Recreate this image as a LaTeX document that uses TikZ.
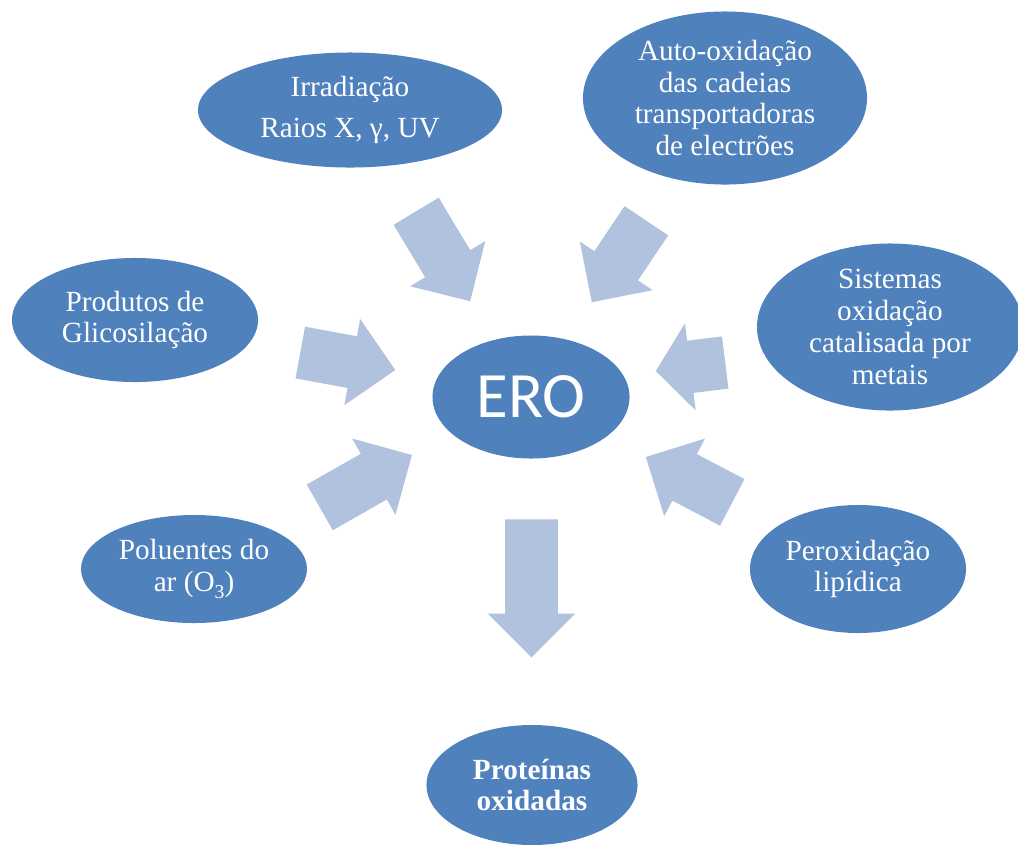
\documentclass[tikz,border=0pt]{standalone}
\usepackage{fontspec}
\setmainfont{Liberation Serif}
\newfontfamily\erofont{Carlito}
\usetikzlibrary{shapes.geometric, shapes.arrows}
\definecolor{ellblue}{HTML}{4F81BD}
\definecolor{arrblue}{HTML}{B1C2DE}
\tikzstyle{source} = [ellipse, 
fill=ellblue, 
text=white, 
inner sep=0pt, 
align=center, 
font=\fontsize{20.8}{22.6}\selectfont]
\tikzstyle{bigarrow} = [single arrow, 
fill=arrblue, 
inner sep=0pt, 
inner ysep=0.65cm, 
single arrow head extend=0.4375cm, 
anchor=tail]

\begin{document}
\begin{tikzpicture}[x=0.025cm, y=-0.025cm]
    \useasboundingbox (0,0) rectangle (1018,844);
    \node (irrad) [source, minimum width=7.6cm, minimum height=2.875cm] at (350,110) {Irradiação\\[7pt]Raios X, γ, UV};
    \node (autox) [source, minimum width=7.1cm, minimum height=4.325cm] at (725,98) {Auto-oxidação\\das cadeias\\transportadoras\\de electrões};
    \node (glico) [source, minimum width=6.15cm, minimum height=3.1cm] at (135,320) {Produtos de\\Glicosilação};
    \node (sistemas) [source, minimum width=6.65cm, minimum height=4.175cm] at (890,327) {Sistemas\\oxidação\\catalisada por\\metais};
    \node (ero) [source, minimum width=4.925cm, minimum height=3.075cm, font=\erofont\fontsize{46}{50}\selectfont] at (531,397) {ERO};
    \node (polu) [source, minimum width=5.65cm, minimum height=2.7cm] at (194,569) {Poluentes do\\ar (O\raisebox{-0.55ex}{\fontsize{14}{14}\selectfont 3})};
    \node (perox) [source, minimum width=5.4cm, minimum height=3.2cm] at (858,569) {Peroxidação\\lipídica};
    \node (prot) [source, minimum width=5.275cm, minimum height=3cm, font=\bfseries\fontsize{20.8}{22.6}\selectfont] at (532,785) {Proteínas\\oxidadas};

    \node (a-irrad) [bigarrow, minimum height=2.625cm, rotate=-59] at (416,211) {};
    \node (a-autox) [bigarrow, minimum height=2.45cm, rotate=-123.8] at (646.5,220.5) {};
    \node (a-glico) [bigarrow, minimum height=2.415cm, rotate=-10.4] at (300,352.5) {};
    \node (a-sistemas) [bigarrow, minimum height=1.75cm, rotate=-173, single arrow tip angle=103] at (725.5,362.5) {};
    \node (a-polu) [bigarrow, minimum height=2.65cm, rotate=29.6] at (319.5,507.5) {};
    \node (a-perox) [bigarrow, minimum height=2.44cm, rotate=152.3] at (732.5,502.5) {};
    \node (a-prot) [bigarrow, minimum height=3.45cm, rotate=-90] at (531.5,519) {};
\end{tikzpicture}
\end{document}
